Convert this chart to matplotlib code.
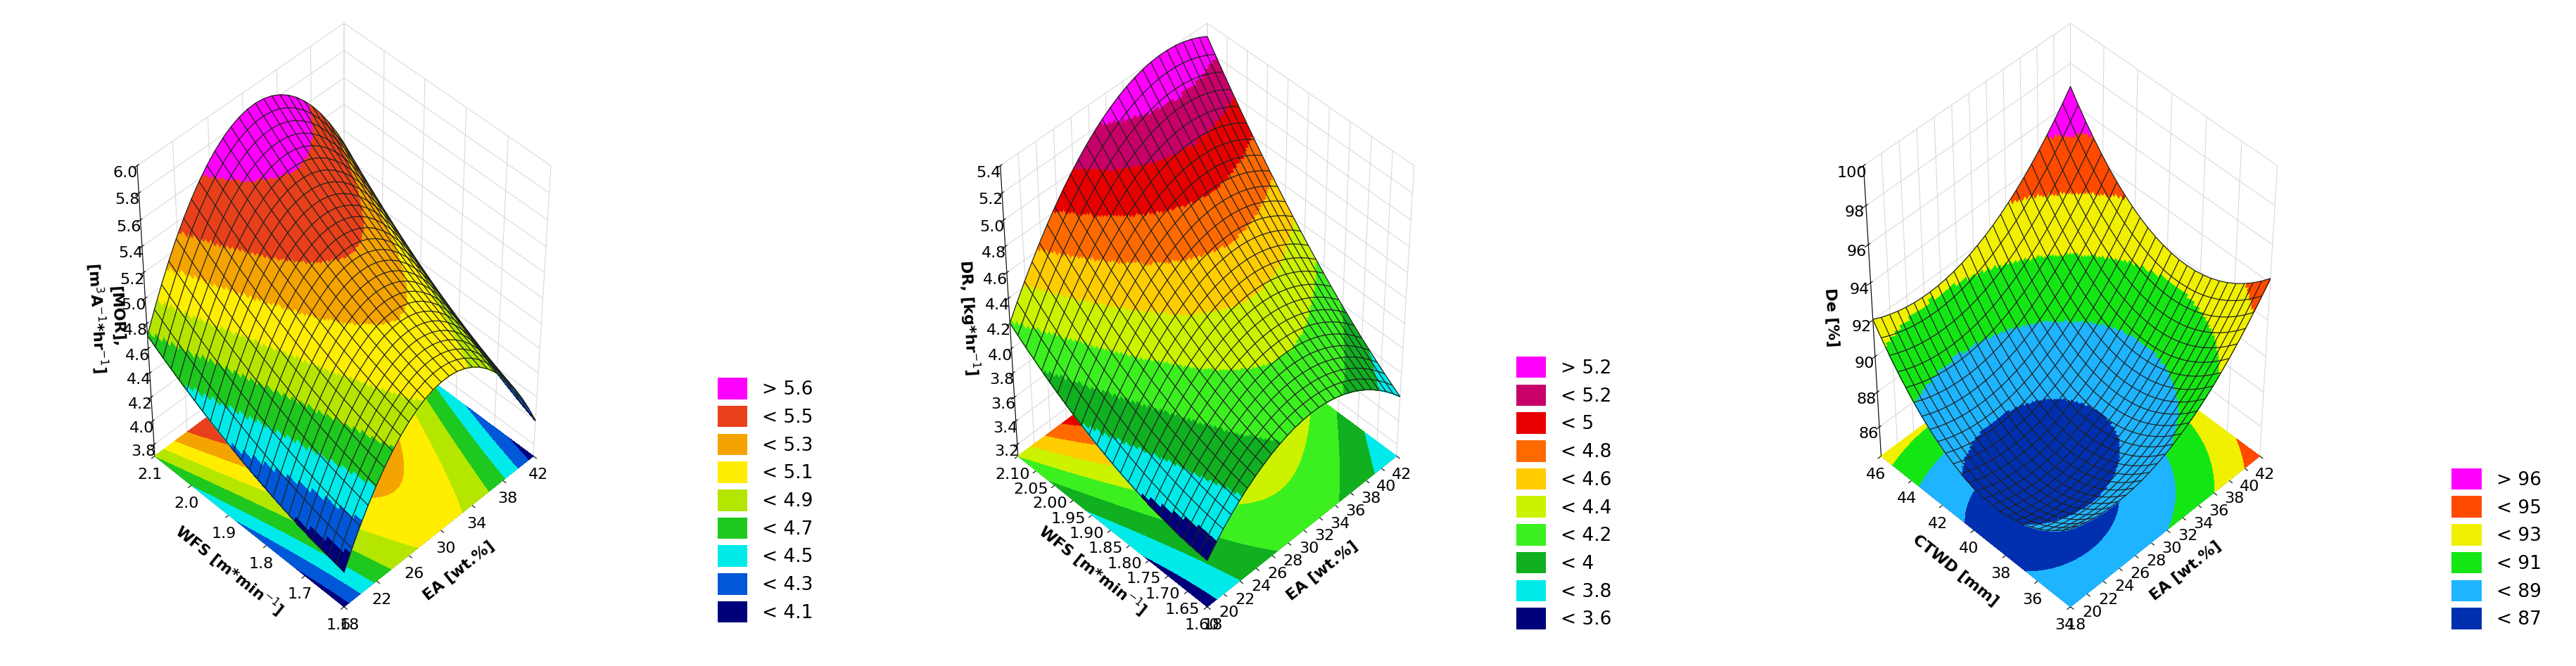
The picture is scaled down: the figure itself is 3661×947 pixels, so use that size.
import numpy as np
import matplotlib
matplotlib.use("Agg")
import matplotlib.pyplot as plt
from matplotlib.colors import ListedColormap, BoundaryNorm
from matplotlib.patches import Patch

# ---- data (quadratic response-surface coefficients, coded units) ----
# z = b0 + b1*e + b2*w + b11*e^2 + b22*w^2 + b12*e*w
ea_range = [18, 42]
wfs_range = [1.6, 2.1]
ctwd_range = [34, 46]

mor_coef = [5.3, 0.1, 0.45, -0.95, 0.1, 0.1]
dr_coef = [4.5, 0.3, 0.6, -0.5, 0.15, 0.25]
de_coef = [86.8, 2.55, 1.45, 2.55, 3.6, -0.15]

mor_bounds = [-np.inf, 4.1, 4.3, 4.5, 4.7, 4.9, 5.1, 5.3, 5.6, np.inf]
mor_colors = ["#00007a", "#0058d8", "#00eaea", "#1ec81e", "#b4e600", "#ffee00", "#f5a300", "#e8401a", "#ff00ff"]
mor_labels = ["< 4.1", "< 4.3", "< 4.5", "< 4.7", "< 4.9", "< 5.1", "< 5.3", "< 5.5", "> 5.6"]

dr_bounds = [-np.inf, 3.6, 3.8, 4.0, 4.2, 4.4, 4.6, 4.8, 5.0, 5.2, np.inf]
dr_colors = ["#00007a", "#00eaea", "#10b020", "#3cf020", "#ccf200", "#ffcc00", "#ff6a00", "#e80000", "#c8006a", "#ff00ff"]
dr_labels = ["< 3.6", "< 3.8", "< 4", "< 4.2", "< 4.4", "< 4.6", "< 4.8", "< 5", "< 5.2", "> 5.2"]

de_bounds = [-np.inf, 87, 89, 91, 93, 95, np.inf]
de_colors = ["#0030b0", "#1eb4ff", "#14e614", "#f0f000", "#ff4a00", "#ff00ff"]
de_labels = ["< 87", "< 89", "< 91", "< 93", "< 95", "> 96"]

mor_zticks = [3.8, 4.0, 4.2, 4.4, 4.6, 4.8, 5.0, 5.2, 5.4, 5.6, 5.8, 6.0]
dr_zticks = [3.2, 3.4, 3.6, 3.8, 4.0, 4.2, 4.4, 4.6, 4.8, 5.0, 5.2, 5.4]
de_zticks = [86, 88, 90, 92, 94, 96, 98, 100]
ea_ticks1 = [18, 22, 26, 30, 34, 38, 42]
ea_ticks2 = list(range(18, 43, 2))
wfs_ticks1 = [1.6, 1.7, 1.8, 1.9, 2.0, 2.1]
wfs_ticks2 = [1.60, 1.65, 1.70, 1.75, 1.80, 1.85, 1.90, 1.95, 2.00, 2.05, 2.10]
ctwd_ticks = [34, 36, 38, 40, 42, 44, 46]


def model(c, e, w):
    return c[0] + c[1]*e + c[2]*w + c[3]*e**2 + c[4]*w**2 + c[5]*e*w


def panel(rect, xr, yr, coef, bounds, colors, labels, zlim, zticks, xticks, yticks,
          yfmt, xlabel, ylabel, zlabel, leg_anchor):
    ax = fig.add_axes(rect, projection="3d")
    cmap = ListedColormap(colors)
    norm = BoundaryNorm(bounds, cmap.N)
    ef = np.linspace(-1, 1, 121)
    E, W = np.meshgrid(ef, ef)
    Z = model(coef, E, W)
    X = xr[0] + (E + 1) / 2 * (xr[1] - xr[0])
    Y = yr[0] + (W + 1) / 2 * (yr[1] - yr[0])
    lv = [b for b in bounds if np.isfinite(b)]
    lv = [Z.min() - 1] + lv + [Z.max() + 1]
    ax.contourf(X, Y, Z, levels=lv, colors=colors, zdir="z", offset=zlim[0])
    ax.plot_surface(X, Y, Z, facecolors=cmap(norm(Z)), shade=False, linewidth=0,
                    antialiased=False, rstride=1, cstride=1)
    ec = np.linspace(-1, 1, 26)
    E2, W2 = np.meshgrid(ec, ec)
    ax.plot_wireframe(xr[0] + (E2 + 1) / 2 * (xr[1] - xr[0]),
                      yr[0] + (W2 + 1) / 2 * (yr[1] - yr[0]),
                      model(coef, E2, W2) + 0.002 * (zlim[1] - zlim[0]),
                      color="#202020", linewidth=0.9)
    ax.set_xlim(xr); ax.set_ylim(yr); ax.set_zlim(zlim)
    ax.set_xticks(xticks); ax.set_yticks(yticks); ax.set_zticks(zticks)
    ax.set_yticklabels([yfmt.format(v) for v in yticks])
    ax.set_zticklabels([("{:.1f}" if zlim[1] < 10 else "{:.0f}").format(v) for v in zticks])
    ax.view_init(elev=48, azim=-135)
    ax.set_box_aspect((1, 1, 1.55), zoom=0.85)
    for a in (ax.xaxis, ax.yaxis, ax.zaxis):
        a.set_pane_color((1, 1, 1, 0))
        a._axinfo["grid"]["color"] = (0.85, 0.85, 0.85, 1)
        a._axinfo["grid"]["linewidth"] = 0.8
    ax.tick_params(labelsize=16, pad=2)
    ax.set_xlabel(xlabel, fontsize=16, fontweight="bold", labelpad=14)
    ax.set_ylabel(ylabel, fontsize=16, fontweight="bold", labelpad=14)
    ax.set_zlabel(zlabel, fontsize=16, fontweight="bold", labelpad=16)
    handles = [Patch(facecolor=c, edgecolor="none") for c in colors[::-1]]
    fig.legend(handles, labels[::-1], loc="lower left", bbox_to_anchor=leg_anchor,
               frameon=False, fontsize=19, handlelength=1.6, handleheight=1.4,
               labelspacing=0.35)
    return ax


fig = plt.figure(figsize=(36.62, 9.47), dpi=100)
panel([0.0, -0.02, 0.26, 1.06], ea_range, wfs_range, mor_coef, mor_bounds, mor_colors, mor_labels,
      (3.7, 6.0), mor_zticks, ea_ticks1, wfs_ticks1, "{:.1f}",
      "EA [wt.%]", "WFS [m*min$^{-1}$]", "[MOR],\n[m$^3$A$^{-1}$*hr$^{-1}$]", (0.272, 0.04))
panel([0.335, -0.02, 0.26, 1.06], ea_range, wfs_range, dr_coef, dr_bounds, dr_colors, dr_labels,
      (3.1, 5.4), dr_zticks, ea_ticks2, wfs_ticks2, "{:.2f}",
      "EA [wt.%]", "WFS [m*min$^{-1}$]", "DR, [kg*hr$^{-1}$]", (0.582, 0.03))
panel([0.67, -0.02, 0.26, 1.06], ea_range, ctwd_range, de_coef, de_bounds, de_colors, de_labels,
      (84.3, 100), de_zticks, ea_ticks2, ctwd_ticks, "{:.0f}",
      "EA [wt.%]", "CTWD [mm]", "De [%]", (0.945, 0.03))
fig.savefig("out.png", dpi=100)
